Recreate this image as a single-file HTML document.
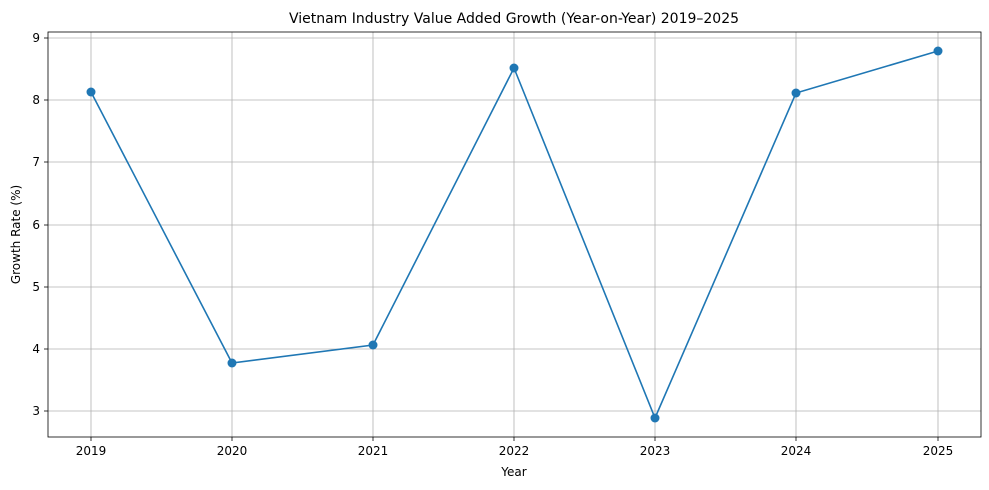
<!DOCTYPE html>
<html><head><meta charset="utf-8"><style>
html,body{margin:0;padding:0;background:#fff;}
svg{display:block;font-family:"DejaVu Sans","Liberation Sans",sans-serif;}
</style></head><body>
<svg width="989" height="490" viewBox="0 0 989 490" xmlns="http://www.w3.org/2000/svg">
<rect width="989" height="490" fill="#fff"/>
<g stroke="#b0b0b0" stroke-width="0.8">
<line x1="91" y1="32" x2="91" y2="437"/>
<line x1="232" y1="32" x2="232" y2="437"/>
<line x1="373" y1="32" x2="373" y2="437"/>
<line x1="514" y1="32" x2="514" y2="437"/>
<line x1="655" y1="32" x2="655" y2="437"/>
<line x1="796" y1="32" x2="796" y2="437"/>
<line x1="938" y1="32" x2="938" y2="437"/>
<line x1="48" y1="38" x2="981" y2="38"/>
<line x1="48" y1="100" x2="981" y2="100"/>
<line x1="48" y1="162" x2="981" y2="162"/>
<line x1="48" y1="225" x2="981" y2="225"/>
<line x1="48" y1="287" x2="981" y2="287"/>
<line x1="48" y1="349" x2="981" y2="349"/>
<line x1="48" y1="411" x2="981" y2="411"/>
</g>
<rect x="48" y="32" width="933" height="405" fill="none" stroke="#000" stroke-width="0.8"/>
<g stroke="#000" stroke-width="0.8">
<line x1="91" y1="437" x2="91" y2="441"/><line x1="232" y1="437" x2="232" y2="441"/>
<line x1="373" y1="437" x2="373" y2="441"/><line x1="514" y1="437" x2="514" y2="441"/>
<line x1="655" y1="437" x2="655" y2="441"/><line x1="796" y1="437" x2="796" y2="441"/>
<line x1="938" y1="437" x2="938" y2="441"/>
<line x1="44" y1="38" x2="48" y2="38"/><line x1="44" y1="100" x2="48" y2="100"/>
<line x1="44" y1="162" x2="48" y2="162"/><line x1="44" y1="225" x2="48" y2="225"/>
<line x1="44" y1="287" x2="48" y2="287"/><line x1="44" y1="349" x2="48" y2="349"/>
<line x1="44" y1="411" x2="48" y2="411"/>
</g>
<g font-size="12" fill="#000" text-anchor="middle">
<text x="91" y="455">2019</text><text x="232" y="455">2020</text><text x="373" y="455">2021</text>
<text x="514" y="455">2022</text><text x="655" y="455">2023</text><text x="796" y="455">2024</text>
<text x="938" y="455">2025</text>
</g>
<g font-size="12" fill="#000" text-anchor="end">
<text x="40" y="42">9</text><text x="40" y="104">8</text><text x="40" y="166">7</text>
<text x="40" y="229">6</text><text x="40" y="291">5</text><text x="40" y="353">4</text>
<text x="40" y="415">3</text>
</g>
<text x="514" y="476" font-size="12" text-anchor="middle">Year</text>
<text transform="translate(20,234.5) rotate(-90)" font-size="12" text-anchor="middle">Growth Rate (%)</text>
<text x="514" y="23" font-size="14" text-anchor="middle">Vietnam Industry Value Added Growth (Year-on-Year) 2019–2025</text>
<polyline fill="none" stroke="#1f77b4" stroke-width="1.6" points="91,92 232,363 373,345 514,68 655,418 796,93 938,51"/>
<g fill="#1f77b4">
<circle cx="91" cy="92" r="4.5"/><circle cx="232" cy="363" r="4.5"/><circle cx="373" cy="345" r="4.5"/>
<circle cx="514" cy="68" r="4.5"/><circle cx="655" cy="418" r="4.5"/><circle cx="796" cy="93" r="4.5"/>
<circle cx="938" cy="51" r="4.5"/>
</g>
</svg>
</body></html>
